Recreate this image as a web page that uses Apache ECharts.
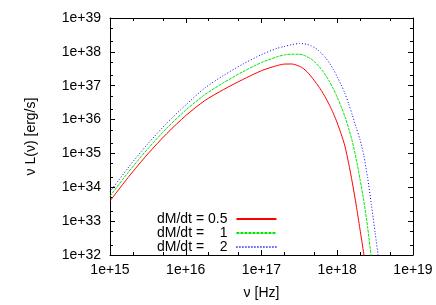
<!DOCTYPE html>
<html>
<head>
<meta charset="utf-8">
<script src="https://cdn.jsdelivr.net/npm/echarts@6/dist/echarts.min.js"></script>
<style>html,body{margin:0;padding:0;background:#fff;}#c{width:436px;height:305px;}</style>
</head>
<body>
<div id="c"></div>
<script>
// Frequencies [Hz] and luminosities nu*L(nu) [erg/s]
const nuRed = [1e15,1.778e15,3.162e15,5.623e15,1e16,1.778e16,3.162e16,5.623e16,1e17,1.585e17,1.995e17,2.512e17,3.162e17,3.548e17,3.981e17,4.467e17,5.012e17,5.623e17,6.310e17,7.079e17,7.943e17,8.913e17,1e18,1.122e18,1.259e18,1.413e18,1.585e18,1.778e18,1.995e18,2.239e18,2.512e18];
const lRed  = [3.95e33,2.09e34,9.73e34,3.87e35,1.31e36,3.62e36,7.73e36,1.51e37,2.78e37,3.90e37,4.35e37,4.38e37,3.77e37,3.25e37,2.60e37,1.94e37,1.39e37,9.80e36,6.62e36,4.26e36,2.60e36,1.50e36,7.94e35,3.85e35,1.68e35,5.15e34,1.33e34,2.99e33,5.78e32,1.08e32,1.79e31];
const nuGreen = [1e15,1.778e15,3.162e15,5.623e15,1e16,1.778e16,3.162e16,5.623e16,1e17,1.585e17,1.995e17,2.512e17,3.162e17,3.548e17,3.981e17,4.467e17,5.012e17,5.623e17,6.310e17,7.079e17,7.943e17,8.913e17,1e18,1.122e18,1.259e18,1.413e18,1.585e18,1.778e18,1.995e18,2.239e18,2.512e18,2.818e18,3.162e18];
const lGreen  = [5.43e33,2.94e34,1.38e35,5.58e35,1.90e36,5.40e36,1.23e37,2.56e37,4.84e37,7.08e37,8.11e37,8.55e37,8.50e37,8.11e37,7.19e37,6.27e37,5.12e37,3.90e37,2.86e37,1.97e37,1.31e37,7.94e36,4.56e36,2.46e36,1.25e36,5.58e35,2.19e35,6.89e34,1.77e34,4.04e33,6.89e32,8.28e31,1e31];
const nuBlue = [1e15,1.778e15,3.162e15,5.623e15,1e16,1.778e16,3.162e16,5.623e16,1e17,1.585e17,1.995e17,2.512e17,3.162e17,3.548e17,3.981e17,4.467e17,5.012e17,5.623e17,6.310e17,7.079e17,7.943e17,8.913e17,1e18,1.122e18,1.259e18,1.413e18,1.585e18,1.778e18,1.995e18,2.239e18,2.512e18,2.818e18,3.162e18,3.548e18,3.981e18];
const lBlue  = [7.38e33,4.04e34,1.93e35,7.89e35,2.69e36,8.49e36,2.02e37,4.29e37,8.28e37,1.26e38,1.44e38,1.63e38,1.77e38,1.74e38,1.66e38,1.53e38,1.34e38,1.11e38,8.73e37,6.53e37,4.53e37,2.98e37,1.84e37,1.08e37,6.05e36,2.94e36,1.34e36,5.86e35,2.58e35,8.79e34,1.95e34,3.16e33,4.62e32,6.44e31,1e31];
const seriesNames = ['dM/dt = 0.5', 'dM/dt =    1', 'dM/dt =    2'];
const xMajor = [1e15,1e16,1e17,1e18,0.99999e19];
const xMinor = [2e15,5e15,2e16,5e16,2e17,5e17,2e18,5e18];
const yMajor = [1.00001e32,1e33,1e34,1e35,1e36,1e37,1e38,0.99999e39];
const yMinor = [2e32,5e32,2e33,5e33,2e34,5e34,2e35,5e35,2e36,5e36,2e37,5e37,2e38,5e38];
const xTitle = 'ν [Hz]';
const yTitle = 'ν L(ν) [erg/s]';

const FONT = '"Liberation Sans", Arial, sans-serif';
const pair = (a, b) => a.map((v, i) => [v, b[i]]);
const expLabel = v => '1e+' + Math.round(Math.log10(v));
const labelStyle = {color: '#000', fontFamily: FONT, fontSize: 14};

function mkAxis(pos, ticks, len, showLine, label, extra) {
  return Object.assign({
    type: 'log', logBase: 10, position: pos,
    axisLine: {show: showLine, lineStyle: {color: '#000', width: 1}},
    axisTick: {show: true, inside: true, length: len, customValues: ticks, lineStyle: {color: '#000', width: 1}},
    axisLabel: label ? Object.assign({show: true, customValues: ticks, formatter: expLabel}, labelStyle, label) : {show: false},
    splitLine: {show: false}, minorTick: {show: false}
  }, extra);
}
const xr = {min: 1e15, max: 1e19};
const yr = {min: 1e32, max: 1e39};

const chart = echarts.init(document.getElementById('c'), null, {renderer: 'canvas'});
chart.setOption({
  animation: false,
  backgroundColor: '#fff',
  grid: {left: 110, right: 23, top: 18, bottom: 49, containLabel: false},
  xAxis: [
    mkAxis('bottom', xMajor, 5, true, {margin: 8}, Object.assign({name: xTitle, nameLocation: 'middle', nameGap: 31,
      nameTextStyle: labelStyle}, xr)),
    mkAxis('top', xMajor, 5, true, null, xr),
    mkAxis('bottom', xMinor, 3, false, null, xr),
    mkAxis('top', xMinor, 3, false, null, xr)
  ],
  yAxis: [
    mkAxis('left', yMajor, 5, true, {margin: 9}, Object.assign({name: yTitle, nameLocation: 'middle', nameGap: 72, nameRotate: 90,
      nameTextStyle: labelStyle}, yr)),
    mkAxis('right', yMajor, 5, true, null, yr),
    mkAxis('left', yMinor, 3, false, null, yr),
    mkAxis('right', yMinor, 3, false, null, yr)
  ],
  legend: {
    orient: 'vertical', left: 152, top: 207, align: 'right',
    itemWidth: 40, itemHeight: 10, itemGap: 0,
    textStyle: {color: '#000', fontFamily: FONT, fontSize: 14, padding: [0, 4, 0, 0]},
    itemStyle: {opacity: 0},
    data: seriesNames
  },
  series: [
    {name: seriesNames[0], type: 'line', data: pair(nuRed, lRed), showSymbol: false, symbol: 'none', smooth: 0.25,
      lineStyle: {color: '#ff0000', width: 1, type: 'solid'}, itemStyle: {color: '#ff0000'}, clip: true},
    {name: seriesNames[1], type: 'line', data: pair(nuGreen, lGreen), showSymbol: false, symbol: 'none', smooth: 0.25,
      lineStyle: {color: '#00e600', width: 1, type: [3, 1]}, itemStyle: {color: '#00e600'}, clip: true},
    {name: seriesNames[2], type: 'line', data: pair(nuBlue, lBlue), showSymbol: false, symbol: 'none', smooth: 0.25,
      lineStyle: {color: '#0000ff', width: 1, type: [1, 2]}, itemStyle: {color: '#0000ff'}, clip: true}
  ]
});
</script>
</body>
</html>
